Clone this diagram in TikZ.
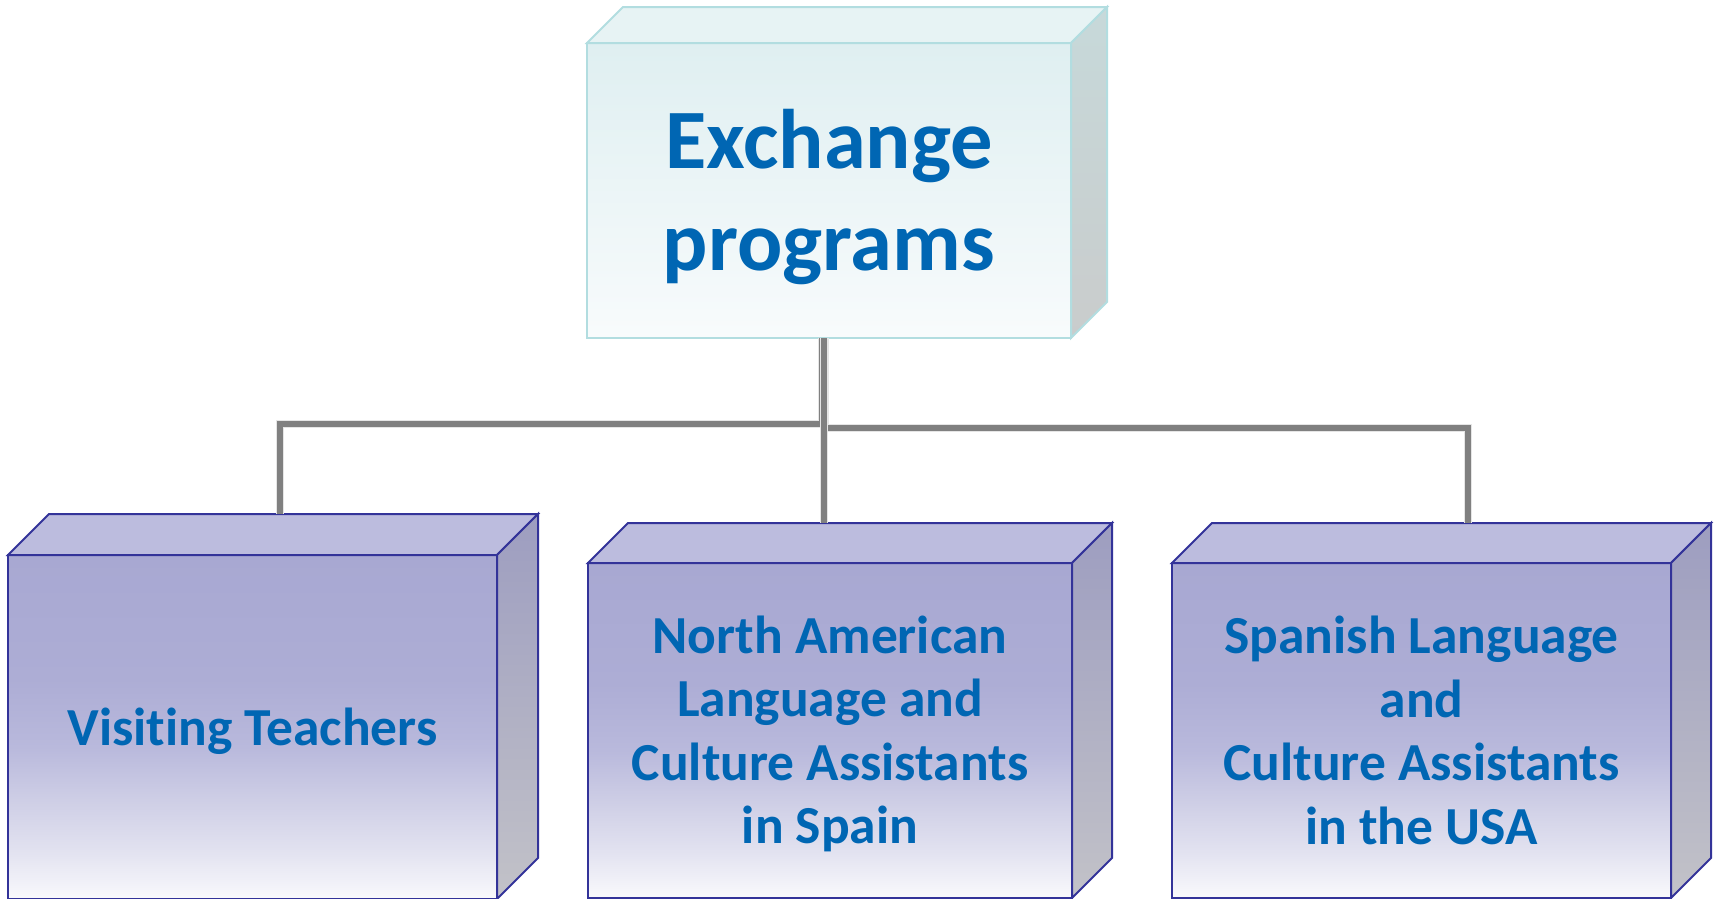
\documentclass[tikz,border=0pt]{standalone}
\usepackage{fontspec}
\setmainfont{Carlito}[RawFeature={-liga;-clig;-calt;-dlig}]
\usetikzlibrary{calc}
\definecolor{txtblue}{HTML}{0066B3}
\definecolor{pborder}{HTML}{333399}
\definecolor{ptop}{HTML}{BCBCDE}
\definecolor{pside1}{HTML}{9D9DC0}
\definecolor{pside2}{HTML}{C2C2C8}
\definecolor{pf0}{HTML}{F9F9FC}
\definecolor{pf1}{HTML}{E2E2F0}
\definecolor{pf2}{HTML}{CFCFE6}
\definecolor{pf3}{HTML}{B9B9DC}
\definecolor{pf4}{HTML}{ADADD5}
\definecolor{pf5}{HTML}{A8A8D2}
\definecolor{cborder}{HTML}{B2DDE0}
\definecolor{ctop}{HTML}{E7F3F4}
\definecolor{cfront1}{HTML}{DFEFF1}
\definecolor{cfront2}{HTML}{F8FBFC}
\definecolor{cside1}{HTML}{C7D9DA}
\definecolor{cside2}{HTML}{C9CCCC}
\definecolor{conngray}{HTML}{808080}
\pgfdeclareverticalshading{pfront}{100bp}{color(0bp)=(pf0); color(25bp)=(pf0); color(32bp)=(pf1); color(39bp)=(pf2); color(47bp)=(pf3); color(57bp)=(pf4); color(75bp)=(pf5); color(100bp)=(pf5)}
\tikzset{
  pbox/.style={draw=pborder, line width=2pt, inner sep=0pt, outer sep=0pt, shading=pfront, shade},
  pface/.style={draw=pborder, line width=2pt, line join=miter},
  cbox/.style={draw=cborder, line width=2pt, inner sep=0pt, outer sep=0pt, top color=cfront1, bottom color=cfront2},
  cface/.style={draw=cborder, line width=2pt, line join=miter},
  conn/.style={draw=conngray, line width=6pt, line cap=butt, line join=miter,
    preaction={draw=black!10, line width=7.5pt}},
  bigtext/.style={text=txtblue, align=center, inner sep=0pt, font=\fontsize{84.5}{102}\selectfont\bfseries},
  boxtext/.style={text=txtblue, align=center, inner sep=0pt, font=\fontsize{53.5}{63.5}\selectfont\bfseries}
}
\begin{document}
\begin{tikzpicture}[x=1pt,y=-1pt]
\useasboundingbox (0,0) rectangle (1719,898);
\clip (0,0) rectangle (1719,898);
% top box
\node[cbox, minimum width=484pt, minimum height=295pt] (top) at (829,190.5) {};
\path[cface, fill=ctop] (top.north west) -- ++(36,-36) -- ($(top.north east)+(36,-36)$) -- (top.north east) -- cycle;
\path[cface, top color=cside1, bottom color=cside2] (top.north east) -- ++(36,-36) -- ($(top.south east)+(36,-36)$) -- (top.south east) -- cycle;
\node[bigtext, anchor=base] (ttop) at (829,270) {Exchange\\programs};
% left box
\node[pbox, minimum width=489pt, minimum height=344pt] (L) at (252.5,727) {};
\path[pface, fill=ptop] (L.north west) -- ++(41,-41) -- ($(L.north east)+(41,-41)$) -- (L.north east) -- cycle;
\path[pface, top color=pside1, bottom color=pside2] (L.north east) -- ++(41,-41) -- ($(L.south east)+(41,-41)$) -- (L.south east) -- cycle;
\coordinate (Lback) at ($(L.north)+(41,-41)$);
\node[boxtext, anchor=base] (tL) at (252.5,745) {Visiting Teachers};
% middle box
\node[pbox, minimum width=484pt, minimum height=335pt] (M) at (830,730.5) {};
\path[pface, fill=ptop] (M.north west) -- ++(40,-40) -- ($(M.north east)+(40,-40)$) -- (M.north east) -- cycle;
\path[pface, top color=pside1, bottom color=pside2] (M.north east) -- ++(40,-40) -- ($(M.south east)+(40,-40)$) -- (M.south east) -- cycle;
\coordinate (Mback) at ($(M.north)+(40,-40)$);
\node[boxtext, anchor=base] (tM) at (830,843.5) {North American\\Language and\\Culture Assistants\\in Spain};
% right box
\node[pbox, minimum width=499pt, minimum height=335pt] (R) at (1421.5,730.5) {};
\path[pface, fill=ptop] (R.north west) -- ++(40,-40) -- ($(R.north east)+(40,-40)$) -- (R.north east) -- cycle;
\path[pface, top color=pside1, bottom color=pside2] (R.north east) -- ++(40,-40) -- ($(R.south east)+(40,-40)$) -- (R.south east) -- cycle;
\coordinate (Rback) at ($(R.north)+(40,-40)$);
\node[boxtext, anchor=base] (tR) at (1421.5,844) {Spanish Language\\and\\Culture Assistants\\in the USA};
% connectors
\draw[conn] ([xshift=-7pt]top.south) -- ++(0,86) -| ([xshift=-13.5pt]Lback);
\draw[conn] ([xshift=-4pt]top.south) -- ++(0,90) -| ([xshift=6.5pt]Rback);
\draw[conn] ([xshift=-5pt]top.south) -- ([xshift=-5pt]top.south |- Mback);
\end{tikzpicture}
\end{document}
